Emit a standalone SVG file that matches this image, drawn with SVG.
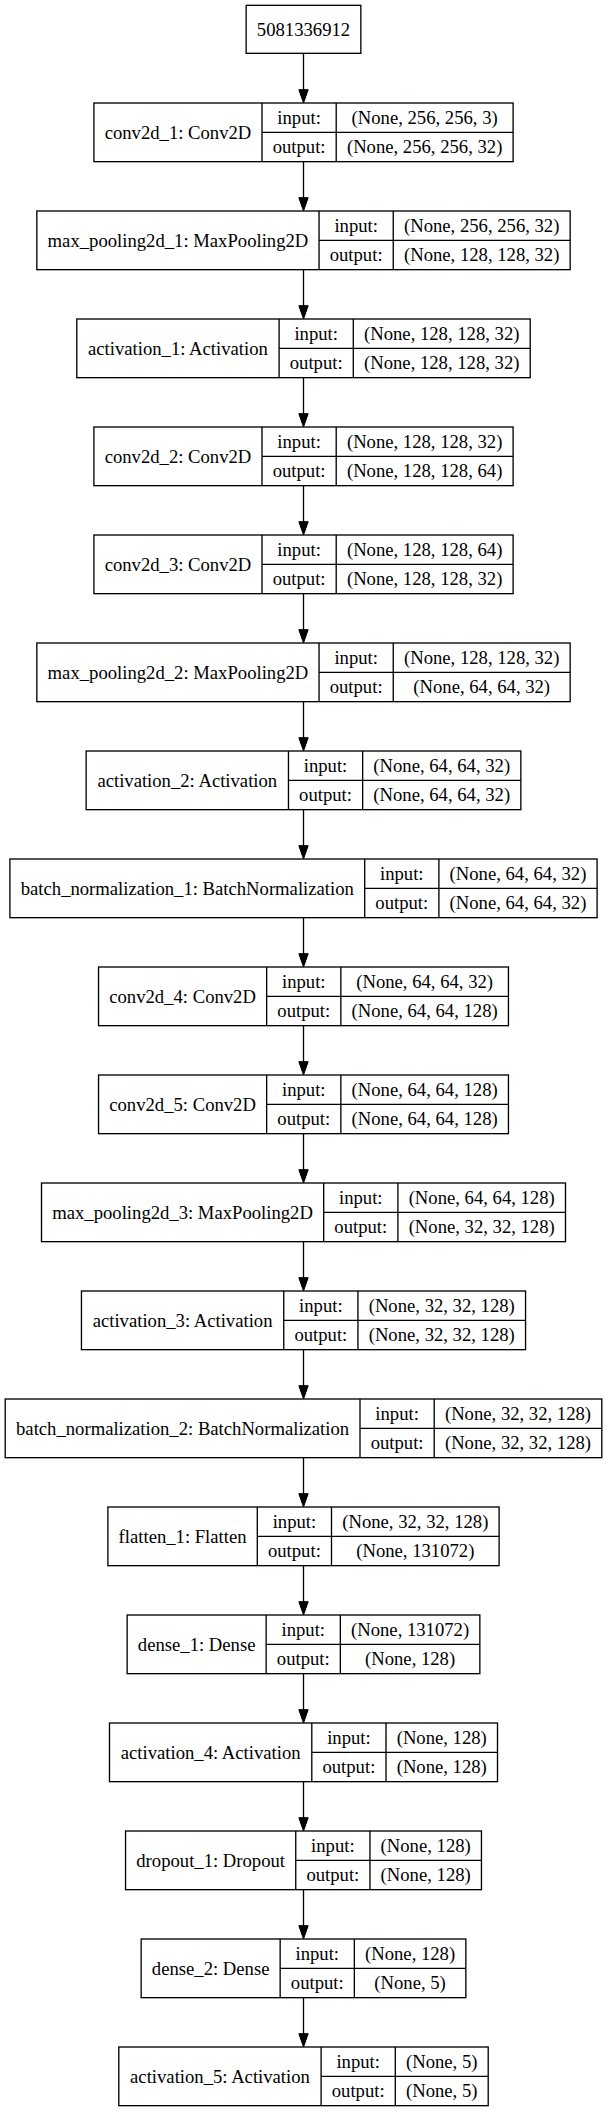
<svg xmlns="http://www.w3.org/2000/svg" width="607" height="2112" viewBox="0 0 607 2112">
<style>
.bx{fill:#fff;stroke:#000;stroke-width:1.33}
.dv{stroke:#000;stroke-width:1.33;fill:none}
text{font-family:"Liberation Serif","Times New Roman",serif;font-size:18.67px;fill:#000;text-anchor:middle}
.e{stroke:#000;stroke-width:1.33;fill:none;marker-end:url(#ah)}
</style>
<defs>
<marker id="ah" markerUnits="userSpaceOnUse" markerWidth="14" markerHeight="10" refX="0" refY="4.67" orient="auto" overflow="visible">
<path d="M0,0 L13.33,4.67 L0,9.33 Z" fill="#000" stroke="#000" stroke-width="1"/>
</marker>
</defs>
<rect width="607" height="2112" fill="#fff"/>
<g id="connectors">
<path class="e" d="M303.5,53.33 V89.67"/>
<path class="e" d="M303.5,161.67 V197.67"/>
<path class="e" d="M303.5,269.67 V305.67"/>
<path class="e" d="M303.5,377.67 V413.67"/>
<path class="e" d="M303.5,485.67 V521.67"/>
<path class="e" d="M303.5,593.67 V629.67"/>
<path class="e" d="M303.5,701.67 V737.67"/>
<path class="e" d="M303.5,809.67 V845.67"/>
<path class="e" d="M303.5,917.67 V953.67"/>
<path class="e" d="M303.5,1025.67 V1061.67"/>
<path class="e" d="M303.5,1133.67 V1169.67"/>
<path class="e" d="M303.5,1241.67 V1277.67"/>
<path class="e" d="M303.5,1349.67 V1385.67"/>
<path class="e" d="M303.5,1457.67 V1493.67"/>
<path class="e" d="M303.5,1565.67 V1601.67"/>
<path class="e" d="M303.5,1673.67 V1709.67"/>
<path class="e" d="M303.5,1781.67 V1817.67"/>
<path class="e" d="M303.5,1889.67 V1925.67"/>
<path class="e" d="M303.5,1997.67 V2033.67"/>
</g>
<g id="input_5081336912">
<rect class="bx" x="246.15" y="5.33" width="114.7" height="48"/>
<text x="303.5" y="36">5081336912</text>
</g>
<g id="conv2d_1" transform="translate(0,103)">
<rect class="bx" x="93.9" y="0" width="419.2" height="58.67"/>
<path class="dv" d="M262,0 V58.67 M336.2,0 V58.67 M262,29.33 H513.1"/>
<text x="178" y="35.6">conv2d_1: Conv2D</text>
<text x="299.1" y="21">input:</text><text x="299.1" y="50.3">output:</text>
<text x="424.65" y="21">(None, 256, 256, 3)</text><text x="424.65" y="50.3">(None, 256, 256, 32)</text>
</g>
<g id="max_pooling2d_1" transform="translate(0,211)">
<rect class="bx" x="36.85" y="0" width="533.3" height="58.67"/>
<path class="dv" d="M319.05,0 V58.67 M393.25,0 V58.67 M319.05,29.33 H570.15"/>
<text x="177.95" y="35.6">max_pooling2d_1: MaxPooling2D</text>
<text x="356.15" y="21">input:</text><text x="356.15" y="50.3">output:</text>
<text x="481.7" y="21">(None, 256, 256, 32)</text><text x="481.7" y="50.3">(None, 128, 128, 32)</text>
</g>
<g id="activation_1" transform="translate(0,319)">
<rect class="bx" x="76.8" y="0" width="453.4" height="58.67"/>
<path class="dv" d="M279.1,0 V58.67 M353.3,0 V58.67 M279.1,29.33 H530.2"/>
<text x="177.95" y="35.6">activation_1: Activation</text>
<text x="316.2" y="21">input:</text><text x="316.2" y="50.3">output:</text>
<text x="441.75" y="21">(None, 128, 128, 32)</text><text x="441.75" y="50.3">(None, 128, 128, 32)</text>
</g>
<g id="conv2d_2" transform="translate(0,427)">
<rect class="bx" x="93.9" y="0" width="419.2" height="58.67"/>
<path class="dv" d="M262,0 V58.67 M336.2,0 V58.67 M262,29.33 H513.1"/>
<text x="178" y="35.6">conv2d_2: Conv2D</text>
<text x="299.1" y="21">input:</text><text x="299.1" y="50.3">output:</text>
<text x="424.65" y="21">(None, 128, 128, 32)</text><text x="424.65" y="50.3">(None, 128, 128, 64)</text>
</g>
<g id="conv2d_3" transform="translate(0,535)">
<rect class="bx" x="93.9" y="0" width="419.2" height="58.67"/>
<path class="dv" d="M262,0 V58.67 M336.2,0 V58.67 M262,29.33 H513.1"/>
<text x="178" y="35.6">conv2d_3: Conv2D</text>
<text x="299.1" y="21">input:</text><text x="299.1" y="50.3">output:</text>
<text x="424.65" y="21">(None, 128, 128, 64)</text><text x="424.65" y="50.3">(None, 128, 128, 32)</text>
</g>
<g id="max_pooling2d_2" transform="translate(0,643)">
<rect class="bx" x="36.85" y="0" width="533.3" height="58.67"/>
<path class="dv" d="M319.05,0 V58.67 M393.25,0 V58.67 M319.05,29.33 H570.15"/>
<text x="177.95" y="35.6">max_pooling2d_2: MaxPooling2D</text>
<text x="356.15" y="21">input:</text><text x="356.15" y="50.3">output:</text>
<text x="481.7" y="21">(None, 128, 128, 32)</text><text x="481.7" y="50.3">(None, 64, 64, 32)</text>
</g>
<g id="activation_2" transform="translate(0,751)">
<rect class="bx" x="86.15" y="0" width="434.7" height="58.67"/>
<path class="dv" d="M288.45,0 V58.67 M362.65,0 V58.67 M288.45,29.33 H520.85"/>
<text x="187.3" y="35.6">activation_2: Activation</text>
<text x="325.55" y="21">input:</text><text x="325.55" y="50.3">output:</text>
<text x="441.75" y="21">(None, 64, 64, 32)</text><text x="441.75" y="50.3">(None, 64, 64, 32)</text>
</g>
<g id="batch_normalization_1" transform="translate(0,859)">
<rect class="bx" x="9.9" y="0" width="587.2" height="58.67"/>
<path class="dv" d="M364.7,0 V58.67 M438.9,0 V58.67 M364.7,29.33 H597.1"/>
<text x="187.3" y="35.6">batch_normalization_1: BatchNormalization</text>
<text x="401.8" y="21">input:</text><text x="401.8" y="50.3">output:</text>
<text x="518" y="21">(None, 64, 64, 32)</text><text x="518" y="50.3">(None, 64, 64, 32)</text>
</g>
<g id="conv2d_4" transform="translate(0,967)">
<rect class="bx" x="98.55" y="0" width="409.9" height="58.67"/>
<path class="dv" d="M266.65,0 V58.67 M340.85,0 V58.67 M266.65,29.33 H508.45"/>
<text x="182.6" y="35.6">conv2d_4: Conv2D</text>
<text x="303.75" y="21">input:</text><text x="303.75" y="50.3">output:</text>
<text x="424.65" y="21">(None, 64, 64, 32)</text><text x="424.65" y="50.3">(None, 64, 64, 128)</text>
</g>
<g id="conv2d_5" transform="translate(0,1075)">
<rect class="bx" x="98.55" y="0" width="409.9" height="58.67"/>
<path class="dv" d="M266.65,0 V58.67 M340.85,0 V58.67 M266.65,29.33 H508.45"/>
<text x="182.6" y="35.6">conv2d_5: Conv2D</text>
<text x="303.75" y="21">input:</text><text x="303.75" y="50.3">output:</text>
<text x="424.65" y="21">(None, 64, 64, 128)</text><text x="424.65" y="50.3">(None, 64, 64, 128)</text>
</g>
<g id="max_pooling2d_3" transform="translate(0,1183)">
<rect class="bx" x="41.5" y="0" width="524" height="58.67"/>
<path class="dv" d="M323.7,0 V58.67 M397.9,0 V58.67 M323.7,29.33 H565.5"/>
<text x="182.6" y="35.6">max_pooling2d_3: MaxPooling2D</text>
<text x="360.8" y="21">input:</text><text x="360.8" y="50.3">output:</text>
<text x="481.7" y="21">(None, 64, 64, 128)</text><text x="481.7" y="50.3">(None, 32, 32, 128)</text>
</g>
<g id="activation_3" transform="translate(0,1291)">
<rect class="bx" x="81.45" y="0" width="444.1" height="58.67"/>
<path class="dv" d="M283.75,0 V58.67 M357.95,0 V58.67 M283.75,29.33 H525.55"/>
<text x="182.6" y="35.6">activation_3: Activation</text>
<text x="320.85" y="21">input:</text><text x="320.85" y="50.3">output:</text>
<text x="441.75" y="21">(None, 32, 32, 128)</text><text x="441.75" y="50.3">(None, 32, 32, 128)</text>
</g>
<g id="batch_normalization_2" transform="translate(0,1399)">
<rect class="bx" x="5.2" y="0" width="596.6" height="58.67"/>
<path class="dv" d="M360,0 V58.67 M434.2,0 V58.67 M360,29.33 H601.8"/>
<text x="182.6" y="35.6">batch_normalization_2: BatchNormalization</text>
<text x="397.1" y="21">input:</text><text x="397.1" y="50.3">output:</text>
<text x="518" y="21">(None, 32, 32, 128)</text><text x="518" y="50.3">(None, 32, 32, 128)</text>
</g>
<g id="flatten_1" transform="translate(0,1507)">
<rect class="bx" x="107.9" y="0" width="391.2" height="58.67"/>
<path class="dv" d="M257.3,0 V58.67 M331.5,0 V58.67 M257.3,29.33 H499.1"/>
<text x="182.6" y="35.6">flatten_1: Flatten</text>
<text x="294.4" y="21">input:</text><text x="294.4" y="50.3">output:</text>
<text x="415.3" y="21">(None, 32, 32, 128)</text><text x="415.3" y="50.3">(None, 131072)</text>
</g>
<g id="dense_1" transform="translate(0,1615)">
<rect class="bx" x="127.15" y="0" width="352.7" height="58.67"/>
<path class="dv" d="M266.15,0 V58.67 M340.35,0 V58.67 M266.15,29.33 H479.85"/>
<text x="196.65" y="35.6">dense_1: Dense</text>
<text x="303.25" y="21">input:</text><text x="303.25" y="50.3">output:</text>
<text x="410.1" y="21">(None, 131072)</text><text x="410.1" y="50.3">(None, 128)</text>
</g>
<g id="activation_4" transform="translate(0,1723)">
<rect class="bx" x="109.5" y="0" width="388" height="58.67"/>
<path class="dv" d="M311.8,0 V58.67 M386,0 V58.67 M311.8,29.33 H497.5"/>
<text x="210.65" y="35.6">activation_4: Activation</text>
<text x="348.9" y="21">input:</text><text x="348.9" y="50.3">output:</text>
<text x="441.75" y="21">(None, 128)</text><text x="441.75" y="50.3">(None, 128)</text>
</g>
<g id="dropout_1" transform="translate(0,1831)">
<rect class="bx" x="125.55" y="0" width="355.9" height="58.67"/>
<path class="dv" d="M295.75,0 V58.67 M369.95,0 V58.67 M295.75,29.33 H481.45"/>
<text x="210.65" y="35.6">dropout_1: Dropout</text>
<text x="332.85" y="21">input:</text><text x="332.85" y="50.3">output:</text>
<text x="425.7" y="21">(None, 128)</text><text x="425.7" y="50.3">(None, 128)</text>
</g>
<g id="dense_2" transform="translate(0,1939)">
<rect class="bx" x="141.15" y="0" width="324.7" height="58.67"/>
<path class="dv" d="M280.15,0 V58.67 M354.35,0 V58.67 M280.15,29.33 H465.85"/>
<text x="210.65" y="35.6">dense_2: Dense</text>
<text x="317.25" y="21">input:</text><text x="317.25" y="50.3">output:</text>
<text x="410.1" y="21">(None, 128)</text><text x="410.1" y="50.3">(None, 5)</text>
</g>
<g id="activation_5" transform="translate(0,2047)">
<rect class="bx" x="118.8" y="0" width="369.4" height="58.67"/>
<path class="dv" d="M321.1,0 V58.67 M395.3,0 V58.67 M321.1,29.33 H488.2"/>
<text x="220" y="35.6">activation_5: Activation</text>
<text x="358.2" y="21">input:</text><text x="358.2" y="50.3">output:</text>
<text x="441.75" y="21">(None, 5)</text><text x="441.75" y="50.3">(None, 5)</text>
</g>
</svg>
